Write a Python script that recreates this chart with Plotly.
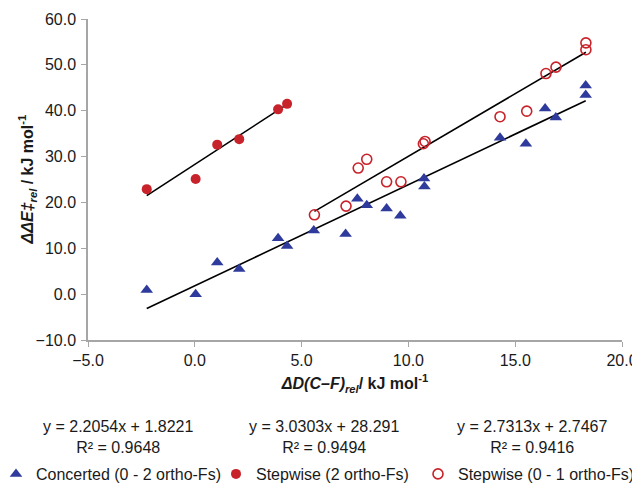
import plotly.graph_objects as go

# ---- data ----
conc_x = [-2.25, 0.04, 1.05, 2.08, 3.9, 4.32, 5.57, 7.06, 7.61, 8.05, 8.98, 9.62, 10.73, 10.75, 14.29, 15.5, 16.4, 16.9, 18.3, 18.3]
conc_y = [0.9, 0.0, 6.9, 5.5, 12.2, 10.5, 13.9, 13.1, 20.8, 19.4, 18.7, 17.1, 25.2, 23.5, 34.1, 32.8, 40.5, 38.5, 45.5, 43.4]

step2_x = [-2.25, 0.04, 1.05, 2.08, 3.9, 4.32]
step2_y = [22.9, 25.1, 32.6, 33.8, 40.3, 41.5]

step01_x = [5.6, 7.08, 7.65, 8.05, 8.98, 9.65, 10.7, 10.78, 14.29, 15.54, 16.44, 16.91, 18.31, 18.31]
step01_y = [17.3, 19.2, 27.5, 29.4, 24.5, 24.5, 32.8, 33.3, 38.7, 39.9, 48.1, 49.5, 53.3, 54.8]

series_names = ["Concerted (0 - 2 ortho-Fs)", "Stepwise (2 ortho-Fs)", "Stepwise (0 - 1 ortho-Fs)"]
slopes = [2.2054, 3.0303, 2.7313]
intercepts = [1.8221, 28.291, 2.7467]
r2 = [0.9648, 0.9494, 0.9416]
eq_labels = ["y = 2.2054x + 1.8221", "y = 3.0303x + 28.291", "y = 2.7313x + 2.7467"]
r2_labels = ["R² = 0.9648", "R² = 0.9494", "R² = 0.9416"]

x_ticks = [-5, 0, 5, 10, 15, 20]
y_ticks = [-10, 0, 10, 20, 30, 40, 50, 60]

x_title = "<b><i>ΔD(C–F)</i><sub><i>rel</i></sub>/ kJ mol<sup>-1</sup></b>"
y_title = "<b><i>ΔΔE‡</i><sub><i>rel</i></sub> / kJ mol<sup>-1</sup></b>"

FONT = "Liberation Sans, Arial, sans-serif"
BLUE = "#2e3a9c"
RED = "#c8222a"

fig = go.Figure()

# trendlines
for xs, m, b in [(conc_x, slopes[0], intercepts[0]),
                 (step2_x, slopes[1], intercepts[1]),
                 (step01_x, slopes[2], intercepts[2])]:
    x0, x1 = min(xs), max(xs)
    fig.add_trace(go.Scatter(x=[x0, x1], y=[m * x0 + b, m * x1 + b], mode="lines",
                             line=dict(color="black", width=1.6), showlegend=False,
                             hoverinfo="skip"))

fig.add_trace(go.Scatter(x=conc_x, y=conc_y, mode="markers", name=series_names[0], legend="legend",
                         marker=dict(symbol="triangle-up", size=11, color=BLUE, line=dict(width=0))))
fig.add_trace(go.Scatter(x=step2_x, y=step2_y, mode="markers", name=series_names[1], legend="legend2",
                         marker=dict(symbol="circle", size=10, color=RED, line=dict(width=0))))
fig.add_trace(go.Scatter(x=step01_x, y=step01_y, mode="markers", name=series_names[2], legend="legend3",
                         marker=dict(symbol="circle-open", size=10, color=RED, line=dict(width=1.6, color=RED))))

# page body has an 8px default margin: figure origin sits at (8, 8) of the window
OFF = 8
W, H = 640 - OFF, 483 - OFF
L, T = 88 - OFF, 19 - OFF
R = W - (622 - OFF)
B = H - (340 - OFF)
pw, ph = W - L - R, H - T - B

def px_x(px):  # page pixel -> paper
    return (px - OFF - L) / pw

def px_y(py):
    return (H - B - (py - OFF)) / ph

eq_centers = [118, 324, 532]
for i in range(3):
    fig.add_annotation(x=px_x(eq_centers[i]), y=px_y(437), xref="paper", yref="paper",
                       text=eq_labels[i] + "<br>" + r2_labels[i], showarrow=False,
                       font=dict(family=FONT, size=16, color="#1a1a1a"),
                       xanchor="center", yanchor="middle", align="center")

# y-axis title placed as rotated annotation for exact position
fig.add_annotation(x=px_x(27), y=0.5, xref="paper", yref="paper", text=y_title,
                   textangle=-90, showarrow=False, xanchor="center", yanchor="middle",
                   font=dict(family=FONT, size=16, color="#1a1a1a"))

def leg(x_page):
    return dict(orientation="h", x=px_x(x_page), y=px_y(457), xanchor="left", yanchor="top",
                font=dict(family=FONT, size=16, color="#1a1a1a"),
                itemwidth=30, bgcolor="rgba(0,0,0,0)")

fig.update_layout(
    width=W, height=H,
    margin=dict(l=L, r=R, t=T, b=B, autoexpand=False),
    paper_bgcolor="white", plot_bgcolor="white",
    font=dict(family=FONT, size=16, color="#1a1a1a"),
    showlegend=True,
    legend=leg(-4),
    legend2=leg(216),
    legend3=leg(418),
    xaxis=dict(range=[-5, 20], tickvals=x_ticks, tickformat=".1f", showgrid=False, zeroline=False,
               showline=True, linecolor="#a6a6a6", linewidth=1.5, ticks="outside", ticklen=5,
               tickcolor="#a6a6a6", tickfont=dict(size=16),
               title=dict(text=x_title, font=dict(size=16), standoff=10)),
    yaxis=dict(range=[-10, 60], tickvals=y_ticks, tickformat=".1f", showgrid=False, zeroline=False,
               showline=True, linecolor="#a6a6a6", linewidth=1.5, ticks="outside", ticklen=5,
               tickcolor="#a6a6a6", tickfont=dict(size=16), ticklabelstandoff=2),
)

fig.write_html("out.html")
